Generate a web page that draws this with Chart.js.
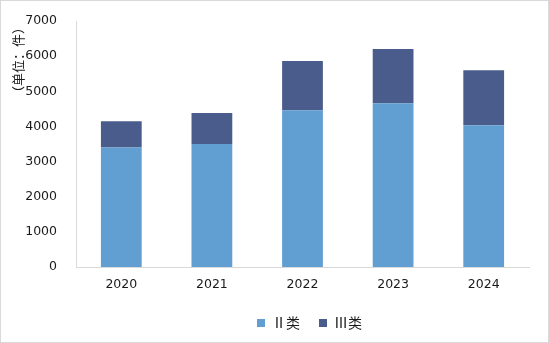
<!DOCTYPE html>
<html>
<head>
<meta charset="utf-8">
<script src="https://cdn.jsdelivr.net/npm/chart.js@4/dist/chart.umd.min.js"></script>
<style>
    html, body { margin: 0; padding: 0; background: #fff; }
    #wrap {
        width: 549px;
        height: 343px;
        box-sizing: border-box;
        border: 1px solid #d9d9d9;
        position: relative;
    }
    #wrap canvas { display: block; }
</style>
</head>
<body>
<div id="wrap"><canvas id="barChart" width="547" height="341"></canvas></div>
<script>
const years = ['2020', '2021', '2022', '2023', '2024'];
const class2 = [3400, 3500, 4460, 4660, 4030];
const class3 = [750, 880, 1400, 1540, 1570];
const yTicks = [0, 1000, 2000, 3000, 4000, 5000, 6000, 7000];

// la légende du modèle est décalée vers la droite
const legendShift = {
    id: 'legendShift',
    afterLayout(chart) {
        chart.legend.left += 40;
        chart.legend.right += 40;
    }
};

const ctx = document.getElementById('barChart').getContext('2d');

new Chart(ctx, {
    type: 'bar',
    data: {
        labels: years,
        datasets: [{
            label: 'Ⅱ类',
            data: class2,
            backgroundColor: '#619ED2',
            barPercentage: 0.45,
            categoryPercentage: 1
        }, {
            label: 'Ⅲ类',
            data: class3,
            backgroundColor: '#4A5C8B',
            barPercentage: 0.45,
            categoryPercentage: 1
        }]
    },
    options: {
        responsive: false,
        animation: false,
        layout: {
            padding: { left: 9, right: 19, top: 20, bottom: 2 }
        },
        plugins: {
            legend: {
                position: 'bottom',
                labels: {
                    boxWidth: 8,
                    boxHeight: 8,
                    padding: 19,
                    color: '#1a1a1a',
                    font: { family: "'Noto Sans CJK SC'", size: 14 }
                }
            },
            tooltip: { enabled: false }
        },
        scales: {
            x: {
                stacked: true,
                grid: {
                    display: true,
                    drawOnChartArea: false,
                    drawTicks: false,
                    color: '#d9d9d9'
                },
                border: { color: '#d9d9d9', width: 1 },
                ticks: {
                    padding: 10,
                    color: '#1a1a1a',
                    font: { family: "'DejaVu Sans'", size: 12.5 }
                },
                afterFit: function(scale) {
                    scale.height = 30;
                }
            },
            y: {
                stacked: true,
                min: 0,
                max: 7000,
                afterBuildTicks: function(scale) {
                    scale.ticks = yTicks.map(v => ({ value: v }));
                },
                grid: {
                    display: false
                },
                border: { color: '#d9d9d9', width: 1 },
                ticks: {
                    padding: 11,
                    color: '#1a1a1a',
                    font: { family: "'DejaVu Sans'", size: 12.5 },
                    callback: function(value) {
                        return String(value);
                    }
                },
                title: {
                    display: true,
                    text: '（单位：件）',
                    align: 'end',
                    padding: 0,
                    color: '#1a1a1a',
                    font: { family: "'Noto Sans CJK SC'", size: 13 }
                },
                afterFit: function(scale) {
                    scale.width = 66;
                }
            }
        }
    },
    plugins: [legendShift]
});
</script>
</body>
</html>
